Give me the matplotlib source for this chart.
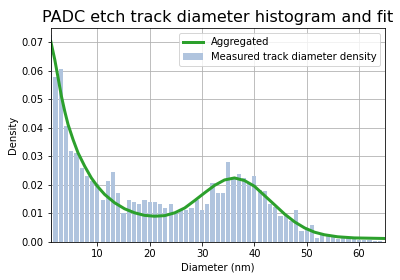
import matplotlib
matplotlib.use("Agg")
import matplotlib.pyplot as plt

# Histogram bin centers (nm) and densities
bin_centers = list(range(1, 65))
density = [0.0725, 0.0578, 0.0606, 0.0406, 0.0319, 0.0312, 0.0260, 0.0232, 0.0214, 0.0203,
           0.0147, 0.0214, 0.0245, 0.0172, 0.0100, 0.0147, 0.0140, 0.0133, 0.0147, 0.0140,
           0.0140, 0.0133, 0.0119, 0.0133, 0.0105, 0.0112, 0.0112, 0.0119, 0.0147, 0.0112,
           0.0133, 0.0207, 0.0172, 0.0172, 0.0280, 0.0224, 0.0238, 0.0224, 0.0203, 0.0231,
           0.0182, 0.0178, 0.0133, 0.0124, 0.0091, 0.0095, 0.0073, 0.0112, 0.0039, 0.0046,
           0.0060, 0.0015, 0.0029, 0.0028, 0.0023, 0.0009, 0.0016, 0.0014, 0.0012, 0.0008,
           0.0005, 0.0005, 0.0003, 0.0002]

# Aggregated fit curve
fit_x = [1.1, 1.86, 2.5, 3.13, 3.77, 4.4, 5.36, 6.3, 7.58, 8.85, 10.0, 11.4, 13.3, 15.2,
         17.1, 19.0, 20.9, 22.85, 24.8, 26.7, 28.6, 30.5, 32.4, 34.3, 36.2, 38.1, 40.0,
         41.9, 43.8, 45.75, 47.7, 49.6, 51.5, 53.4, 55.9, 59.1, 65.0]
fit_y = [0.0702, 0.0638, 0.0574, 0.0510, 0.0457, 0.0411, 0.0358, 0.0312, 0.0265, 0.0224,
         0.0195, 0.0166, 0.0137, 0.0116, 0.0102, 0.0093, 0.0090, 0.0092, 0.0102, 0.0119,
         0.0145, 0.0172, 0.0198, 0.0217, 0.0224, 0.0215, 0.0195, 0.0163, 0.0131, 0.0098,
         0.0070, 0.0049, 0.0034, 0.0025, 0.0018, 0.0014, 0.0012]

xticks = [10, 20, 30, 40, 50, 60]
yticks = [0.00, 0.01, 0.02, 0.03, 0.04, 0.05, 0.06, 0.07]

fig = plt.figure(figsize=(400 / 72, 280 / 72), dpi=72)
ax = fig.add_axes([0.127, 0.136, 0.836, 0.764])
ax.set_axisbelow(True)
ax.grid(True, color="#b0b0b0", linewidth=0.8)

ax.bar(bin_centers, density, width=0.8, color="lightsteelblue",
       label="Measured track diameter density")
ax.plot(fit_x, fit_y, color="#2ca02c", linewidth=3, label="Aggregated")

ax.set_xlim(1.1, 65)
ax.set_ylim(0, 0.0749)
ax.set_xticks(xticks)
ax.set_yticks(yticks)
ax.set_yticklabels([f"{v:.2f}" for v in yticks])
ax.tick_params(labelsize=10)
ax.set_xlabel("Diameter (nm)", fontsize=10)
ax.set_ylabel("Density", fontsize=10)
ax.set_title("PADC etch track diameter histogram and fit", fontsize=16)
ax.legend(loc="upper right", fontsize=10)

fig.savefig("out.png", dpi=72)
